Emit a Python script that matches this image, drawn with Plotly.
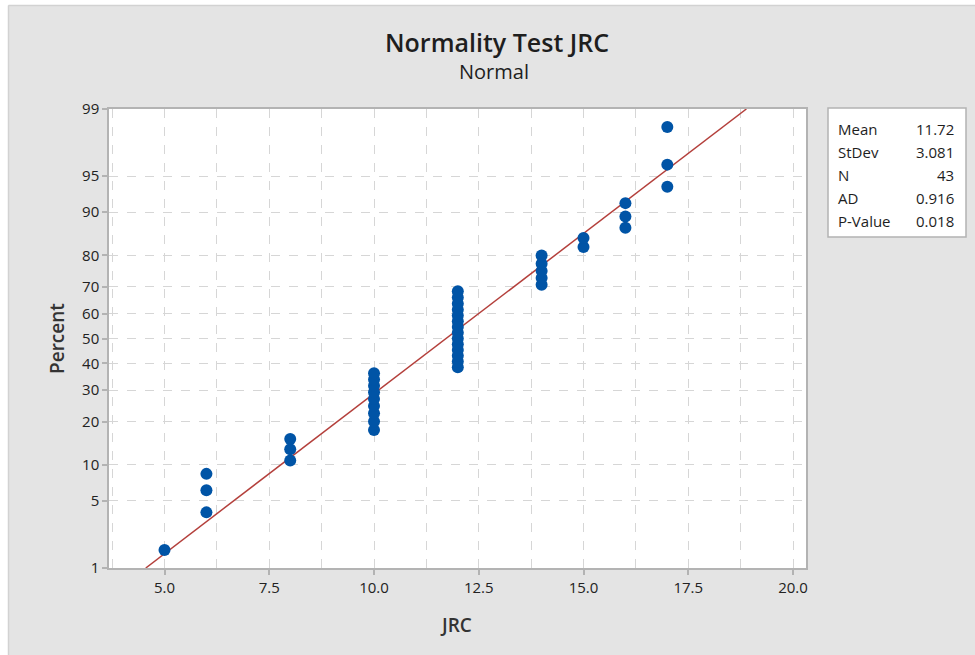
import plotly.graph_objects as go
from statistics import NormalDist

# ---------------- data ----------------
jrc_values = [5,
              6, 6, 6,
              8, 8, 8,
              10, 10, 10, 10, 10, 10, 10, 10, 10,
              12, 12, 12, 12, 12, 12, 12, 12, 12, 12, 12, 12, 12, 12,
              14, 14, 14, 14, 14,
              15, 15,
              16, 16, 16,
              17, 17, 17]
percent_values = [1.6,
                  3.9, 6.2, 8.5,
                  10.8, 13.1, 15.4,
                  17.7, 20.0, 22.4, 24.7, 27.0, 29.3, 31.6, 33.9, 36.2,
                  38.5, 40.8, 43.1, 45.4, 47.7, 50.0, 52.3, 54.6, 56.9, 59.2, 61.5, 63.8, 66.1, 68.4,
                  70.7, 73.0, 75.3, 77.6, 80.0,
                  82.3, 84.6,
                  86.9, 89.2, 91.5,
                  93.8, 96.1, 98.4]
percent_ticks = [1, 5, 10, 20, 30, 40, 50, 60, 70, 80, 90, 95, 99]
x_ticks = [5.0, 7.5, 10.0, 12.5, 15.0, 17.5, 20.0]
stat_labels = ["Mean", "StDev", "N", "AD", "P-Value"]
stat_values = ["11.72", "3.081", "43", "0.916", "0.018"]
fit_mean = 11.72
fit_sd = 3.081

nd = NormalDist()
z_pts = [nd.inv_cdf(p / 100.0) for p in percent_values]
z_ticks = [nd.inv_cdf(p / 100.0) for p in percent_ticks]
z_lo, z_hi = z_ticks[0], z_ticks[-1]

W, H = 975, 655
L, R, T, B = 109, 806, 109, 568
pw, ph = R - L, B - T

def px(xp):
    return (xp - L) / pw

def py(yp):
    return (B - yp) / ph

FONT = "Open Sans"
GRID = "#d6d6d6"
AX = "#b3b3b3"
TXT = "#1e1e1e"
TICKFONT = dict(family=FONT, size=15, color="#222222")

fig = go.Figure()

# fitted line
fig.add_trace(go.Scatter(
    x=[fit_mean + fit_sd * z_lo, fit_mean + fit_sd * z_hi],
    y=[z_lo, z_hi],
    mode="lines",
    line=dict(color="#b4403c", width=1.5),
    hoverinfo="skip",
    showlegend=False,
))

# data points
fig.add_trace(go.Scatter(
    x=jrc_values,
    y=z_pts,
    mode="markers",
    marker=dict(color="#0054a6", size=12, line=dict(width=0)),
    showlegend=False,
))

shapes = [
    dict(type="rect", xref="paper", yref="paper", x0=px(0), x1=px(W), y0=py(5), y1=py(0),
         fillcolor="white", line=dict(width=0), layer="below"),
    dict(type="rect", xref="paper", yref="paper", x0=px(0), x1=px(8), y0=py(H), y1=py(0),
         fillcolor="white", line=dict(width=0), layer="below"),
    dict(type="line", xref="paper", yref="paper", x0=px(8.5), x1=px(W), y0=py(5.5), y1=py(5.5),
         line=dict(color="#d2d2d2", width=1.5), layer="below"),
    dict(type="line", xref="paper", yref="paper", x0=px(8.5), x1=px(8.5), y0=py(H), y1=py(5.5),
         line=dict(color="#d2d2d2", width=1.5), layer="below"),
    dict(type="rect", xref="paper", yref="paper", x0=px(828), x1=px(966), y0=py(237), y1=py(108),
         fillcolor="white", line=dict(color=AX, width=1.5)),
]

annotations = [
    dict(text="Normality Test JRC", xref="paper", yref="paper", x=px(497), y=py(42),
         showarrow=False, font=dict(family=FONT, size=25, color=TXT, weight=600),
         xanchor="center", yanchor="middle"),
    dict(text="Normal", xref="paper", yref="paper", x=px(494), y=py(71),
         showarrow=False, font=dict(family=FONT, size=20, color=TXT, weight=500),
         xanchor="center", yanchor="middle"),
    dict(text="JRC", xref="paper", yref="paper", x=px(456), y=py(625),
         showarrow=False, font=dict(family=FONT, size=19, color="#333333", weight=600),
         xanchor="center", yanchor="middle"),
    dict(text="Percent", xref="paper", yref="paper", x=px(57), y=py(339),
         showarrow=False, textangle=-90, font=dict(family=FONT, size=19, color="#333333", weight=600),
         xanchor="center", yanchor="middle"),
]

row_y = [129, 152, 175, 198, 221]
for lab, val, yy in zip(stat_labels, stat_values, row_y):
    annotations.append(dict(text=lab, xref="paper", yref="paper", x=px(836), y=py(yy),
                            showarrow=False, xanchor="left", yanchor="middle",
                            font=dict(family=FONT, size=15, color=TXT)))
    annotations.append(dict(text=val, xref="paper", yref="paper", x=px(956), y=py(yy),
                            showarrow=False, xanchor="right", yanchor="middle",
                            font=dict(family=FONT, size=15, color=TXT)))

fig.update_layout(
    width=W, height=H,
    margin=dict(l=L, r=W - R, t=T, b=H - B, pad=0),
    paper_bgcolor="#e4e4e4",
    plot_bgcolor="white",
    shapes=shapes,
    annotations=annotations,
    showlegend=False,
    font=dict(family=FONT, size=15, color="#222222"),
    xaxis=dict(
        range=[3.675, 20.31],
        tickmode="array",
        tickvals=x_ticks,
        ticktext=[f"{v:.1f}" for v in x_ticks],
        ticks="outside", ticklen=5, tickcolor=AX, tickwidth=1.5,
        showline=True, linecolor=AX, linewidth=1.5, mirror=True,
        showgrid=True, gridcolor=GRID, griddash="dash", gridwidth=1,
        minor=dict(tick0=3.75, dtick=1.25, showgrid=True, gridcolor=GRID, griddash="dash", gridwidth=1),
        zeroline=False,
        tickfont=TICKFONT,
    ),
    yaxis=dict(
        range=[z_lo, z_hi],
        tickmode="array",
        tickvals=z_ticks,
        ticktext=[str(p) for p in percent_ticks],
        ticks="outside", ticklen=5, tickcolor=AX, tickwidth=1.5,
        showline=True, linecolor=AX, linewidth=1.5, mirror=True,
        showgrid=True, gridcolor=GRID, griddash="dash", gridwidth=1,
        zeroline=False,
        tickfont=TICKFONT,
    ),
)

fig.write_html("out.html")
